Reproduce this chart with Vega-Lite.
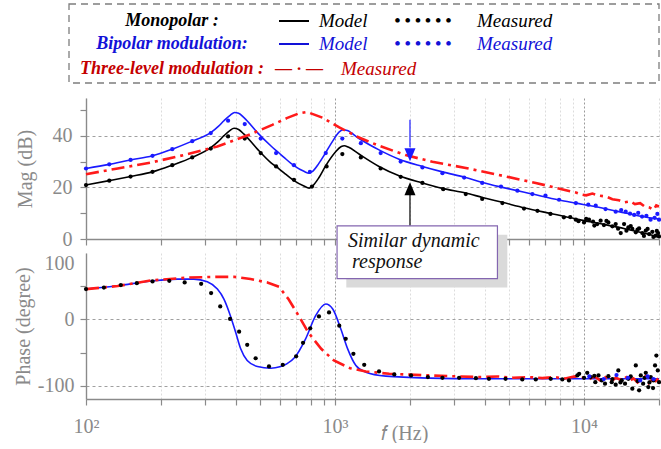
{
  "$schema": "https://vega.github.io/schema/vega-lite/v6.json",
  "padding": {"left": 13, "top": 3, "right": 0, "bottom": 0},
  "config": {
    "font": "Liberation Serif",
    "view": {"stroke": null},
    "axis": {
      "domainColor": "#8a8a8a", "domainWidth": 1.4,
      "tickColor": "#8a8a8a", "tickSize": 6, "tickWidth": 1.2,
      "labelColor": "#8a8a8a", "labelFont": "Liberation Serif", "labelFontSize": 20, "labelFlush": false,
      "titleColor": "#8a8a8a", "titleFont": "Liberation Serif", "titleFontSize": 20, "titleFontWeight": "normal",
      "gridWidth": 1
    }
  },
  "datasets": {
    "legendRows": [
      {"kind": "frame", "slot": 0, "slot2": 7, "line": 0, "line2": 4},
      {"kind": "label", "series": "Monopolar", "slot": 1, "line": 1, "text": "Monopolar :"},
      {"kind": "label", "series": "Bipolar", "slot": 1, "line": 2, "text": "Bipolar modulation:"},
      {"kind": "label", "series": "Three-level", "slot": 1, "line": 3, "text": "Three-level modulation :"},
      {"kind": "solid", "series": "Monopolar", "slot": 2, "line": 1},
      {"kind": "solid", "series": "Bipolar", "slot": 2, "line": 2},
      {"kind": "glyph", "series": "Three-level", "slot": 2.2, "line": 3, "text": "— · —"},
      {"kind": "item", "series": "Monopolar", "slot": 3, "line": 1, "text": "Model"},
      {"kind": "item", "series": "Bipolar", "slot": 3, "line": 2, "text": "Model"},
      {"kind": "item", "series": "Three-level", "slot": 4, "line": 3, "text": "Measured"},
      {"kind": "glyph", "series": "Monopolar", "slot": 5, "line": 1, "text": "• • • • • •"},
      {"kind": "glyph", "series": "Bipolar", "slot": 5, "line": 2, "text": "• • • • • •"},
      {"kind": "item", "series": "Monopolar", "slot": 6, "line": 1, "text": "Measured"},
      {"kind": "item", "series": "Bipolar", "slot": 6, "line": 2, "text": "Measured"}
    ],
    "magModel": [
      {"series": "Monopolar", "f": 100, "v": 20.9}, {"series": "Monopolar", "f": 124, "v": 22.6},
      {"series": "Monopolar", "f": 151, "v": 24.2}, {"series": "Monopolar", "f": 185, "v": 26.0},
      {"series": "Monopolar", "f": 222, "v": 28.6}, {"series": "Monopolar", "f": 267, "v": 31.6},
      {"series": "Monopolar", "f": 317, "v": 35.4}, {"series": "Monopolar", "f": 340, "v": 37.8},
      {"series": "Monopolar", "f": 358, "v": 40.0}, {"series": "Monopolar", "f": 378, "v": 42.0},
      {"series": "Monopolar", "f": 393, "v": 42.9}, {"series": "Monopolar", "f": 410, "v": 42.4},
      {"series": "Monopolar", "f": 431, "v": 40.6}, {"series": "Monopolar", "f": 488, "v": 34.8},
      {"series": "Monopolar", "f": 552, "v": 29.6}, {"series": "Monopolar", "f": 596, "v": 27.2},
      {"series": "Monopolar", "f": 624, "v": 25.6}, {"series": "Monopolar", "f": 684, "v": 22.6},
      {"series": "Monopolar", "f": 750, "v": 20.5}, {"series": "Monopolar", "f": 787, "v": 19.7},
      {"series": "Monopolar", "f": 810, "v": 20.4}, {"series": "Monopolar", "f": 860, "v": 23.6},
      {"series": "Monopolar", "f": 918, "v": 28.4}, {"series": "Monopolar", "f": 1000, "v": 33.5},
      {"series": "Monopolar", "f": 1060, "v": 35.8}, {"series": "Monopolar", "f": 1090, "v": 36.1},
      {"series": "Monopolar", "f": 1130, "v": 35.6}, {"series": "Monopolar", "f": 1248, "v": 32.9},
      {"series": "Monopolar", "f": 1502, "v": 28.1}, {"series": "Monopolar", "f": 1808, "v": 24.5},
      {"series": "Monopolar", "f": 2244, "v": 21.7}, {"series": "Monopolar", "f": 2700, "v": 19.6},
      {"series": "Monopolar", "f": 3350, "v": 17.8}, {"series": "Monopolar", "f": 3910, "v": 16.1},
      {"series": "Monopolar", "f": 4700, "v": 14.2}, {"series": "Monopolar", "f": 5800, "v": 12.0},
      {"series": "Monopolar", "f": 7500, "v": 9.7}, {"series": "Monopolar", "f": 9560, "v": 7.5},
      {"series": "Monopolar", "f": 11800, "v": 5.8}, {"series": "Monopolar", "f": 14700, "v": 3.9},
      {"series": "Monopolar", "f": 17500, "v": 2.2}, {"series": "Monopolar", "f": 20000, "v": 0.8},
      {"series": "Bipolar", "f": 100, "v": 27.3}, {"series": "Bipolar", "f": 124, "v": 28.9},
      {"series": "Bipolar", "f": 151, "v": 30.6}, {"series": "Bipolar", "f": 185, "v": 32.2},
      {"series": "Bipolar", "f": 222, "v": 34.8}, {"series": "Bipolar", "f": 267, "v": 37.9},
      {"series": "Bipolar", "f": 317, "v": 41.2}, {"series": "Bipolar", "f": 340, "v": 43.6},
      {"series": "Bipolar", "f": 358, "v": 45.8}, {"series": "Bipolar", "f": 380, "v": 48.0},
      {"series": "Bipolar", "f": 395, "v": 49.0}, {"series": "Bipolar", "f": 410, "v": 48.7},
      {"series": "Bipolar", "f": 431, "v": 47.0}, {"series": "Bipolar", "f": 488, "v": 41.2},
      {"series": "Bipolar", "f": 552, "v": 36.1}, {"series": "Bipolar", "f": 596, "v": 33.3},
      {"series": "Bipolar", "f": 624, "v": 31.6}, {"series": "Bipolar", "f": 684, "v": 28.4},
      {"series": "Bipolar", "f": 750, "v": 26.2}, {"series": "Bipolar", "f": 787, "v": 25.5},
      {"series": "Bipolar", "f": 810, "v": 26.1}, {"series": "Bipolar", "f": 860, "v": 29.2},
      {"series": "Bipolar", "f": 918, "v": 33.5}, {"series": "Bipolar", "f": 980, "v": 38.0},
      {"series": "Bipolar", "f": 1040, "v": 41.5}, {"series": "Bipolar", "f": 1080, "v": 42.3},
      {"series": "Bipolar", "f": 1120, "v": 42.0}, {"series": "Bipolar", "f": 1248, "v": 38.9},
      {"series": "Bipolar", "f": 1502, "v": 34.5}, {"series": "Bipolar", "f": 1808, "v": 30.9},
      {"series": "Bipolar", "f": 2244, "v": 28.1}, {"series": "Bipolar", "f": 2700, "v": 26.0},
      {"series": "Bipolar", "f": 3350, "v": 23.8}, {"series": "Bipolar", "f": 3910, "v": 21.9},
      {"series": "Bipolar", "f": 4700, "v": 20.0}, {"series": "Bipolar", "f": 6200, "v": 17.4},
      {"series": "Bipolar", "f": 7940, "v": 15.1}, {"series": "Bipolar", "f": 9270, "v": 13.9},
      {"series": "Bipolar", "f": 11140, "v": 12.5}, {"series": "Bipolar", "f": 13800, "v": 10.6},
      {"series": "Bipolar", "f": 17100, "v": 8.7}, {"series": "Bipolar", "f": 20000, "v": 7.7}
    ],
    "magMeasured": [
      {"series": "Monopolar", "f": 100, "v": 20.9}, {"series": "Monopolar", "f": 124, "v": 22.6},
      {"series": "Monopolar", "f": 151, "v": 24.2}, {"series": "Monopolar", "f": 185, "v": 26.0},
      {"series": "Monopolar", "f": 222, "v": 28.6}, {"series": "Monopolar", "f": 267, "v": 31.6},
      {"series": "Monopolar", "f": 317, "v": 35.0}, {"series": "Monopolar", "f": 372, "v": 39.7},
      {"series": "Monopolar", "f": 434, "v": 38.9}, {"series": "Monopolar", "f": 503, "v": 33.3},
      {"series": "Monopolar", "f": 580, "v": 28.1}, {"series": "Monopolar", "f": 684, "v": 22.9},
      {"series": "Monopolar", "f": 808, "v": 20.3}, {"series": "Monopolar", "f": 925, "v": 28.1},
      {"series": "Monopolar", "f": 1070, "v": 32.9}, {"series": "Monopolar", "f": 1270, "v": 31.6},
      {"series": "Monopolar", "f": 1525, "v": 27.3}, {"series": "Monopolar", "f": 1835, "v": 24.1},
      {"series": "Monopolar", "f": 2244, "v": 21.7}, {"series": "Monopolar", "f": 2720, "v": 19.3},
      {"series": "Monopolar", "f": 3350, "v": 17.4}, {"series": "Monopolar", "f": 3900, "v": 15.5},
      {"series": "Monopolar", "f": 4700, "v": 13.9}, {"series": "Monopolar", "f": 5740, "v": 11.8},
      {"series": "Monopolar", "f": 6500, "v": 10.9}, {"series": "Monopolar", "f": 7330, "v": 9.7},
      {"series": "Monopolar", "f": 8300, "v": 8.4}, {"series": "Monopolar", "f": 8800, "v": 8.5},
      {"series": "Monopolar", "f": 9270, "v": 7.5}, {"series": "Monopolar", "f": 9500, "v": 6.9},
      {"series": "Monopolar", "f": 10000, "v": 6.4}, {"series": "Monopolar", "f": 10200, "v": 7.8},
      {"series": "Monopolar", "f": 10470, "v": 7.5}, {"series": "Monopolar", "f": 10870, "v": 6.7},
      {"series": "Monopolar", "f": 11000, "v": 5.2}, {"series": "Monopolar", "f": 11300, "v": 5.8},
      {"series": "Monopolar", "f": 11660, "v": 7.1}, {"series": "Monopolar", "f": 12020, "v": 5.4},
      {"series": "Monopolar", "f": 12300, "v": 7.0}, {"series": "Monopolar", "f": 12520, "v": 6.4},
      {"series": "Monopolar", "f": 12990, "v": 4.9}, {"series": "Monopolar", "f": 13400, "v": 5.8},
      {"series": "Monopolar", "f": 13700, "v": 4.0}, {"series": "Monopolar", "f": 14040, "v": 2.3},
      {"series": "Monopolar", "f": 14480, "v": 5.8}, {"series": "Monopolar", "f": 14800, "v": 3.2},
      {"series": "Monopolar", "f": 15060, "v": 4.5}, {"series": "Monopolar", "f": 15400, "v": 5.0},
      {"series": "Monopolar", "f": 15630, "v": 3.9}, {"series": "Monopolar", "f": 16140, "v": 2.6},
      {"series": "Monopolar", "f": 16400, "v": 3.6}, {"series": "Monopolar", "f": 16640, "v": 4.1},
      {"series": "Monopolar", "f": 17150, "v": 2.3}, {"series": "Monopolar", "f": 17400, "v": 1.2},
      {"series": "Monopolar", "f": 17700, "v": 3.2}, {"series": "Monopolar", "f": 18000, "v": 3.9},
      {"series": "Monopolar", "f": 18250, "v": 1.9}, {"series": "Monopolar", "f": 18810, "v": 2.8},
      {"series": "Monopolar", "f": 19000, "v": 0.8}, {"series": "Monopolar", "f": 19410, "v": 1.3},
      {"series": "Monopolar", "f": 19600, "v": 3.1}, {"series": "Monopolar", "f": 19830, "v": 2.3},
      {"series": "Monopolar", "f": 20000, "v": 1.0},
      {"series": "Bipolar", "f": 100, "v": 27.3}, {"series": "Bipolar", "f": 124, "v": 28.9},
      {"series": "Bipolar", "f": 151, "v": 30.6}, {"series": "Bipolar", "f": 185, "v": 32.2},
      {"series": "Bipolar", "f": 222, "v": 34.8}, {"series": "Bipolar", "f": 267, "v": 37.9},
      {"series": "Bipolar", "f": 317, "v": 41.0}, {"series": "Bipolar", "f": 372, "v": 45.8},
      {"series": "Bipolar", "f": 434, "v": 44.5}, {"series": "Bipolar", "f": 503, "v": 38.9},
      {"series": "Bipolar", "f": 580, "v": 33.3}, {"series": "Bipolar", "f": 684, "v": 28.6},
      {"series": "Bipolar", "f": 793, "v": 26.0}, {"series": "Bipolar", "f": 918, "v": 33.3},
      {"series": "Bipolar", "f": 1070, "v": 38.9}, {"series": "Bipolar", "f": 1270, "v": 37.1},
      {"series": "Bipolar", "f": 1525, "v": 33.3}, {"series": "Bipolar", "f": 1835, "v": 30.0},
      {"series": "Bipolar", "f": 2244, "v": 27.7}, {"series": "Bipolar", "f": 2700, "v": 25.5},
      {"series": "Bipolar", "f": 3300, "v": 23.8}, {"series": "Bipolar", "f": 3900, "v": 21.7},
      {"series": "Bipolar", "f": 4640, "v": 20.3}, {"series": "Bipolar", "f": 5400, "v": 18.7},
      {"series": "Bipolar", "f": 6200, "v": 17.4}, {"series": "Bipolar", "f": 7000, "v": 16.8},
      {"series": "Bipolar", "f": 7940, "v": 15.2}, {"series": "Bipolar", "f": 9270, "v": 13.9},
      {"series": "Bipolar", "f": 10400, "v": 13.3}, {"series": "Bipolar", "f": 11140, "v": 12.9},
      {"series": "Bipolar", "f": 12200, "v": 11.6}, {"series": "Bipolar", "f": 13400, "v": 10.6},
      {"series": "Bipolar", "f": 14100, "v": 11.2}, {"series": "Bipolar", "f": 14700, "v": 10.6},
      {"series": "Bipolar", "f": 15300, "v": 9.8}, {"series": "Bipolar", "f": 15900, "v": 9.3},
      {"series": "Bipolar", "f": 16500, "v": 10.1}, {"series": "Bipolar", "f": 17100, "v": 8.7},
      {"series": "Bipolar", "f": 17800, "v": 9.0}, {"series": "Bipolar", "f": 18500, "v": 7.5},
      {"series": "Bipolar", "f": 19200, "v": 8.2}, {"series": "Bipolar", "f": 19700, "v": 9.7},
      {"series": "Bipolar", "f": 20000, "v": 7.5}
    ],
    "magThree": [
      {"series": "Three-level", "f": 100, "v": 25.1}, {"series": "Three-level", "f": 134, "v": 27.3},
      {"series": "Three-level", "f": 182, "v": 29.6}, {"series": "Three-level", "f": 247, "v": 32.5},
      {"series": "Three-level", "f": 337, "v": 35.8}, {"series": "Three-level", "f": 458, "v": 40.6},
      {"series": "Three-level", "f": 560, "v": 44.2}, {"series": "Three-level", "f": 640, "v": 46.8},
      {"series": "Three-level", "f": 718, "v": 48.7}, {"series": "Three-level", "f": 772, "v": 49.2},
      {"series": "Three-level", "f": 890, "v": 47.0}, {"series": "Three-level", "f": 1040, "v": 43.2},
      {"series": "Three-level", "f": 1248, "v": 39.3}, {"series": "Three-level", "f": 1502, "v": 36.1},
      {"series": "Three-level", "f": 1920, "v": 32.5}, {"series": "Three-level", "f": 2460, "v": 29.9},
      {"series": "Three-level", "f": 3350, "v": 27.5}, {"series": "Three-level", "f": 4700, "v": 24.5},
      {"series": "Three-level", "f": 6400, "v": 21.7}, {"series": "Three-level", "f": 9270, "v": 18.0},
      {"series": "Three-level", "f": 9700, "v": 17.3}, {"series": "Three-level", "f": 10200, "v": 16.9},
      {"series": "Three-level", "f": 10800, "v": 17.6}, {"series": "Three-level", "f": 11500, "v": 16.8},
      {"series": "Three-level", "f": 12300, "v": 16.4}, {"series": "Three-level", "f": 13000, "v": 15.4},
      {"series": "Three-level", "f": 13800, "v": 15.0}, {"series": "Three-level", "f": 14500, "v": 14.2},
      {"series": "Three-level", "f": 15300, "v": 14.6}, {"series": "Three-level", "f": 16000, "v": 13.5},
      {"series": "Three-level", "f": 16800, "v": 13.9}, {"series": "Three-level", "f": 17500, "v": 12.6},
      {"series": "Three-level", "f": 18300, "v": 12.2}, {"series": "Three-level", "f": 19000, "v": 11.3},
      {"series": "Three-level", "f": 19500, "v": 13.0}, {"series": "Three-level", "f": 20000, "v": 12.6}
    ],
    "arrows": [
      {"series": "Bipolar", "f": 2000, "v": 46.2, "v2": 35.5},
      {"series": "Monopolar", "f": 2000, "v": 5.0, "v2": 17.5}
    ],
    "arrowHeads": [
      {"series": "Bipolar", "dir": "down", "f": 2000, "v": 32.6},
      {"series": "Monopolar", "dir": "up", "f": 2000, "v": 19.5}
    ],
    "phaseModel": [
      {"series": "Bipolar", "f": 100, "v": 45.6}, {"series": "Bipolar", "f": 134, "v": 50.6},
      {"series": "Bipolar", "f": 182, "v": 57.7}, {"series": "Bipolar", "f": 233, "v": 60.7},
      {"series": "Bipolar", "f": 271, "v": 60.7}, {"series": "Bipolar", "f": 307, "v": 56.6},
      {"series": "Bipolar", "f": 337, "v": 45.6}, {"series": "Bipolar", "f": 358, "v": 30.6},
      {"series": "Bipolar", "f": 380, "v": 5.6}, {"series": "Bipolar", "f": 399, "v": -19.5},
      {"series": "Bipolar", "f": 418, "v": -44.4}, {"series": "Bipolar", "f": 444, "v": -62.0},
      {"series": "Bipolar", "f": 488, "v": -71.0}, {"series": "Bipolar", "f": 552, "v": -73.6},
      {"series": "Bipolar", "f": 600, "v": -71.5}, {"series": "Bipolar", "f": 640, "v": -67.0},
      {"series": "Bipolar", "f": 690, "v": -57.0}, {"series": "Bipolar", "f": 762, "v": -29.4},
      {"series": "Bipolar", "f": 836, "v": 5.6}, {"series": "Bipolar", "f": 918, "v": 23.1},
      {"series": "Bipolar", "f": 979, "v": 15.6}, {"series": "Bipolar", "f": 1055, "v": -14.4},
      {"series": "Bipolar", "f": 1124, "v": -44.4}, {"series": "Bipolar", "f": 1213, "v": -69.5},
      {"series": "Bipolar", "f": 1330, "v": -79.6}, {"series": "Bipolar", "f": 1600, "v": -85.6},
      {"series": "Bipolar", "f": 2400, "v": -88.6}, {"series": "Bipolar", "f": 3786, "v": -89.5},
      {"series": "Bipolar", "f": 10000, "v": -89.5}, {"series": "Bipolar", "f": 20000, "v": -89.5}
    ],
    "phaseMeasured": [
      {"series": "Monopolar", "f": 100, "v": 45.6}, {"series": "Monopolar", "f": 118, "v": 48.0},
      {"series": "Monopolar", "f": 138, "v": 51.6}, {"series": "Monopolar", "f": 160, "v": 54.6},
      {"series": "Monopolar", "f": 185, "v": 57.1}, {"series": "Monopolar", "f": 216, "v": 58.1},
      {"series": "Monopolar", "f": 249, "v": 55.6}, {"series": "Monopolar", "f": 290, "v": 53.6},
      {"series": "Monopolar", "f": 318, "v": 39.6}, {"series": "Monopolar", "f": 346, "v": 19.5},
      {"series": "Monopolar", "f": 379, "v": 0.6}, {"series": "Monopolar", "f": 412, "v": -18.5},
      {"series": "Monopolar", "f": 444, "v": -38.4}, {"series": "Monopolar", "f": 480, "v": -58.6},
      {"series": "Monopolar", "f": 543, "v": -71.0}, {"series": "Monopolar", "f": 617, "v": -68.5},
      {"series": "Monopolar", "f": 698, "v": -55.6}, {"series": "Monopolar", "f": 744, "v": -35.4},
      {"series": "Monopolar", "f": 795, "v": -13.5}, {"series": "Monopolar", "f": 862, "v": 4.5},
      {"series": "Monopolar", "f": 946, "v": 10.5}, {"series": "Monopolar", "f": 1040, "v": -9.5},
      {"series": "Monopolar", "f": 1104, "v": -29.4}, {"series": "Monopolar", "f": 1185, "v": -52.0},
      {"series": "Monopolar", "f": 1310, "v": -68.5}, {"series": "Monopolar", "f": 1502, "v": -78.5},
      {"series": "Monopolar", "f": 1730, "v": -83.0}, {"series": "Monopolar", "f": 2020, "v": -84.5},
      {"series": "Monopolar", "f": 2360, "v": -87.0}, {"series": "Monopolar", "f": 2700, "v": -88.0},
      {"series": "Monopolar", "f": 3150, "v": -88.0}, {"series": "Monopolar", "f": 3680, "v": -88.6},
      {"series": "Monopolar", "f": 4150, "v": -89.5}, {"series": "Monopolar", "f": 4840, "v": -89.5},
      {"series": "Monopolar", "f": 5650, "v": -90.5}, {"series": "Monopolar", "f": 6400, "v": -90.5},
      {"series": "Monopolar", "f": 7350, "v": -89.5}, {"series": "Monopolar", "f": 8180, "v": -90.5},
      {"series": "Monopolar", "f": 8700, "v": -92.0}, {"series": "Monopolar", "f": 9400, "v": -84.5},
      {"series": "Monopolar", "f": 9560, "v": -82.0}, {"series": "Monopolar", "f": 10000, "v": -88.0},
      {"series": "Monopolar", "f": 10300, "v": -80.5}, {"series": "Monopolar", "f": 10640, "v": -87.0},
      {"series": "Monopolar", "f": 11000, "v": -85.0}, {"series": "Monopolar", "f": 11100, "v": -94.6},
      {"series": "Monopolar", "f": 11430, "v": -84.5}, {"series": "Monopolar", "f": 11780, "v": -92.0},
      {"series": "Monopolar", "f": 12140, "v": -97.0}, {"series": "Monopolar", "f": 12520, "v": -85.6},
      {"series": "Monopolar", "f": 12920, "v": -94.6}, {"series": "Monopolar", "f": 13000, "v": -90.0},
      {"series": "Monopolar", "f": 13400, "v": -98.5}, {"series": "Monopolar", "f": 13730, "v": -77.0},
      {"series": "Monopolar", "f": 14000, "v": -95.0}, {"series": "Monopolar", "f": 14170, "v": -92.0},
      {"series": "Monopolar", "f": 14610, "v": -97.0}, {"series": "Monopolar", "f": 15060, "v": -89.5},
      {"series": "Monopolar", "f": 15400, "v": -86.0}, {"series": "Monopolar", "f": 15630, "v": -104.5},
      {"series": "Monopolar", "f": 16140, "v": -69.5}, {"series": "Monopolar", "f": 16400, "v": -93.0},
      {"series": "Monopolar", "f": 16640, "v": -107.0}, {"series": "Monopolar", "f": 16900, "v": -84.5},
      {"series": "Monopolar", "f": 17270, "v": -97.0}, {"series": "Monopolar", "f": 17500, "v": -88.0},
      {"series": "Monopolar", "f": 17700, "v": -80.5}, {"series": "Monopolar", "f": 18120, "v": -102.0},
      {"series": "Monopolar", "f": 18300, "v": -95.0}, {"series": "Monopolar", "f": 18530, "v": -87.0},
      {"series": "Monopolar", "f": 18930, "v": -103.6}, {"series": "Monopolar", "f": 19000, "v": -92.0},
      {"series": "Monopolar", "f": 19280, "v": -69.5}, {"series": "Monopolar", "f": 19520, "v": -54.5},
      {"series": "Monopolar", "f": 19780, "v": -77.0}, {"series": "Monopolar", "f": 20000, "v": -94.6},
      {"series": "Bipolar", "f": 10500, "v": -86.0}, {"series": "Bipolar", "f": 12000, "v": -90.0},
      {"series": "Bipolar", "f": 13500, "v": -84.0}, {"series": "Bipolar", "f": 15000, "v": -88.0},
      {"series": "Bipolar", "f": 16800, "v": -92.0}, {"series": "Bipolar", "f": 18000, "v": -86.0},
      {"series": "Bipolar", "f": 19000, "v": -90.0}
    ],
    "phaseThree": [
      {"series": "Three-level", "f": 100, "v": 45.6}, {"series": "Three-level", "f": 134, "v": 50.2},
      {"series": "Three-level", "f": 182, "v": 58.6}, {"series": "Three-level", "f": 260, "v": 63.1},
      {"series": "Three-level", "f": 337, "v": 64.1}, {"series": "Three-level", "f": 393, "v": 64.1},
      {"series": "Three-level", "f": 458, "v": 60.7}, {"series": "Three-level", "f": 535, "v": 55.6},
      {"series": "Three-level", "f": 596, "v": 49.0}, {"series": "Three-level", "f": 650, "v": 30.6},
      {"series": "Three-level", "f": 714, "v": 5.6}, {"series": "Three-level", "f": 780, "v": -19.5},
      {"series": "Three-level", "f": 880, "v": -44.4}, {"series": "Three-level", "f": 990, "v": -62.0},
      {"series": "Three-level", "f": 1150, "v": -73.6}, {"series": "Three-level", "f": 1330, "v": -78.5},
      {"series": "Three-level", "f": 1650, "v": -82.0}, {"series": "Three-level", "f": 2400, "v": -84.5},
      {"series": "Three-level", "f": 3786, "v": -87.0}, {"series": "Three-level", "f": 4500, "v": -86.0},
      {"series": "Three-level", "f": 5200, "v": -88.0}, {"series": "Three-level", "f": 6000, "v": -87.0},
      {"series": "Three-level", "f": 6800, "v": -88.5}, {"series": "Three-level", "f": 7600, "v": -87.0},
      {"series": "Three-level", "f": 8400, "v": -89.0}, {"series": "Three-level", "f": 9200, "v": -86.0},
      {"series": "Three-level", "f": 10000, "v": -88.0}, {"series": "Three-level", "f": 10500, "v": -90.0},
      {"series": "Three-level", "f": 11000, "v": -86.0}, {"series": "Three-level", "f": 11600, "v": -92.0},
      {"series": "Three-level", "f": 12200, "v": -87.0}, {"series": "Three-level", "f": 12800, "v": -94.0},
      {"series": "Three-level", "f": 13400, "v": -88.0}, {"series": "Three-level", "f": 14000, "v": -91.0},
      {"series": "Three-level", "f": 14600, "v": -85.0}, {"series": "Three-level", "f": 15200, "v": -93.0},
      {"series": "Three-level", "f": 15800, "v": -89.0}, {"series": "Three-level", "f": 16400, "v": -95.0},
      {"series": "Three-level", "f": 17000, "v": -90.0}, {"series": "Three-level", "f": 17600, "v": -86.0},
      {"series": "Three-level", "f": 18200, "v": -96.0}, {"series": "Three-level", "f": 18800, "v": -90.0},
      {"series": "Three-level", "f": 19400, "v": -93.0}, {"series": "Three-level", "f": 20000, "v": -88.0}
    ],
    "calloutShadow": [{"f": 1110, "f2": 4920, "v": 127.6, "v2": 47.9}],
    "calloutBox": [{"f": 1019, "f2": 4490, "v": 141.0, "v2": 61.4}],
    "calloutText": [
      {"f": 1127, "v": 109.5, "text": "Similar dynamic"},
      {"f": 1170, "v": 76.9, "text": "response"}
    ]
  },
  "bounds": "flush",
  "spacing": 15,
  "resolve": {"scale": {"color": "independent"}},
  "vconcat": [
    {
      "width": 573,
      "height": 79,
      "data": {"name": "legendRows"},
      "encoding": {
        "x": {"field": "slot", "type": "quantitative", "axis": null,
              "scale": {"domain": [0, 1, 2, 3, 4, 5, 6, 7], "range": [-17, 86, 208, 233, 255, 337, 391, 573], "nice": false, "zero": false}},
        "y": {"field": "line", "type": "quantitative", "axis": null,
              "scale": {"domain": [0, 1, 2, 3, 4], "range": [0, 17, 40, 65, 79], "nice": false, "zero": false}}
      },
      "layer": [
        {
          "transform": [{"filter": "datum.kind == 'frame'"}],
          "mark": {"type": "rect", "filled": false, "stroke": "#7d7d7d", "strokeWidth": 1.3, "strokeDash": [7, 5]},
          "encoding": {"x2": {"field": "slot2"}, "y2": {"field": "line2"}}
        },
        {
          "transform": [{"filter": "datum.kind == 'label'"}],
          "mark": {"type": "text", "font": "Liberation Serif", "fontSize": 18, "fontWeight": "bold", "fontStyle": "italic", "align": "center", "baseline": "middle"},
          "encoding": {
            "text": {"field": "text"},
            "color": {"field": "series", "type": "nominal", "legend": null,
                      "scale": {"domain": ["Monopolar", "Bipolar", "Three-level"], "range": ["#000000", "#1212d8", "#c40000"]}}
          }
        },
        {
          "transform": [{"filter": "datum.kind == 'solid'"}],
          "mark": {"type": "tick", "orient": "horizontal", "size": 30, "thickness": 2, "opacity": 1},
          "encoding": {
            "color": {"field": "series", "type": "nominal", "legend": null,
                      "scale": {"domain": ["Monopolar", "Bipolar", "Three-level"], "range": ["#000000", "#1212d8", "#c40000"]}}
          }
        },
        {
          "transform": [{"filter": "datum.kind == 'glyph'"}],
          "mark": {"type": "text", "font": "Liberation Serif", "fontSize": 17, "fontWeight": "bold", "align": "center", "baseline": "middle"},
          "encoding": {
            "text": {"field": "text"},
            "color": {"field": "series", "type": "nominal", "legend": null,
                      "scale": {"domain": ["Monopolar", "Bipolar", "Three-level"], "range": ["#000000", "#1212d8", "#c40000"]}}
          }
        },
        {
          "transform": [{"filter": "datum.kind == 'item'"}],
          "mark": {"type": "text", "font": "Liberation Serif", "fontSize": 19, "fontStyle": "italic", "align": "left", "baseline": "middle"},
          "encoding": {
            "text": {"field": "text"},
            "color": {"field": "series", "type": "nominal", "legend": null,
                      "scale": {"domain": ["Monopolar", "Bipolar", "Three-level"], "range": ["#000000", "#1212d8", "#c40000"]}}
          }
        }
      ]
    },
    {
      "bounds": "flush",
      "spacing": 14,
      "resolve": {"scale": {"color": "independent"}},
      "vconcat": [
        {
          "width": 573,
          "height": 141,
          "encoding": {
            "x": {"field": "f", "type": "quantitative",
                  "scale": {"type": "log", "domain": [100, 20000], "nice": false},
                  "axis": {"values": [100, 200, 300, 400, 500, 600, 700, 800, 900, 1000, 2000, 3000, 4000, 5000, 6000, 7000, 8000, 9000, 10000, 20000],
                           "labels": false, "title": null, "grid": true, "gridDash": [2, 2],
                           "gridColor": {"condition": {"test": "datum.value == 1000 || datum.value == 10000", "value": "#9a9a9a"}, "value": "#dcdcdc"}}},
            "y": {"field": "v", "type": "quantitative",
                  "scale": {"domain": [0, 54.6], "nice": false, "zero": false},
                  "axis": {"values": [0, 10, 20, 30, 40, 50],
                           "labelExpr": "datum.value % 20 == 0 ? datum.label : ''",
                           "labelPadding": 8, "title": "Mag (dB)", "titlePadding": 17,
                           "grid": true, "gridColor": "#a0a0a0", "gridDash": [3, 3],
                           "gridOpacity": {"condition": {"test": "datum.value == 20 || datum.value == 40", "value": 1}, "value": 0}}}
          },
          "layer": [
            {
              "data": {"name": "magModel"},
              "mark": {"type": "line", "strokeWidth": 1.6, "interpolate": "monotone"},
              "encoding": {"color": {"field": "series", "type": "nominal", "legend": null,
                                     "scale": {"domain": ["Monopolar", "Bipolar", "Three-level"], "range": ["#000000", "#1a1aff", "#ff1a1a"]}}}
            },
            {
              "data": {"name": "magMeasured"},
              "mark": {"type": "circle", "size": 18, "opacity": 1},
              "encoding": {"color": {"field": "series", "type": "nominal", "legend": null,
                                     "scale": {"domain": ["Monopolar", "Bipolar", "Three-level"], "range": ["#000000", "#1a1aff", "#ff1a1a"]}}}
            },
            {
              "data": {"name": "magThree"},
              "mark": {"type": "line", "strokeWidth": 2.6, "strokeDash": [13, 5, 3, 5]},
              "encoding": {"color": {"field": "series", "type": "nominal", "legend": null,
                                     "scale": {"domain": ["Monopolar", "Bipolar", "Three-level"], "range": ["#000000", "#1a1aff", "#ff1a1a"]}}}
            },
            {
              "data": {"name": "arrows"},
              "mark": {"type": "rule", "strokeWidth": 1.2},
              "encoding": {"y2": {"field": "v2"},
                           "color": {"field": "series", "type": "nominal", "legend": null,
                                     "scale": {"domain": ["Monopolar", "Bipolar", "Three-level"], "range": ["#000000", "#1a1aff", "#ff1a1a"]}}}
            },
            {
              "data": {"name": "arrowHeads"},
              "mark": {"type": "point", "filled": true, "size": 169, "opacity": 1},
              "encoding": {
                "shape": {"field": "dir", "type": "nominal", "legend": null,
                          "scale": {"domain": ["down", "up"], "range": ["M-0.85,-1L0.85,-1L0,1Z", "M-0.85,1L0.85,1L0,-1Z"]}},
                "color": {"field": "series", "type": "nominal", "legend": null,
                          "scale": {"domain": ["Monopolar", "Bipolar", "Three-level"], "range": ["#000000", "#1a1aff", "#ff1a1a"]}}
              }
            }
          ]
        },
        {
          "width": 573,
          "height": 146,
          "encoding": {
            "x": {"field": "f", "type": "quantitative",
                  "scale": {"type": "log", "domain": [100, 20000], "nice": false},
                  "axis": {"values": [100, 200, 300, 400, 500, 600, 700, 800, 900, 1000, 2000, 3000, 4000, 5000, 6000, 7000, 8000, 9000, 10000, 20000],
                           "labelExpr": "datum.value == 100 ? '10²' : datum.value == 1000 ? '10³' : datum.value == 10000 ? '10⁴' : ''",
                           "labelPadding": 11, "labelFontSize": 20,
                           "title": "𝑓 (Hz)", "titleX": 318, "titleY": 24, "titleBaseline": "top", "titleAlign": "center",
                           "grid": true, "gridDash": [2, 2],
                           "gridColor": {"condition": {"test": "datum.value == 1000 || datum.value == 10000", "value": "#9a9a9a"}, "value": "#dcdcdc"}}},
            "y": {"field": "v", "type": "quantitative",
                  "scale": {"domain": [-120, 100], "nice": false, "zero": false},
                  "axis": {"values": [-100, -50, 0, 50, 100],
                           "labelExpr": "datum.value == 100 ? '100' : datum.value == 0 ? '0' : datum.value == -100 ? '-100' : ''",
                           "labelBaseline": {"condition": {"test": "datum.value == 100", "value": "top"}, "value": "middle"},
                           "tickOpacity": {"condition": {"test": "datum.value == 100", "value": 0}, "value": 1},
                           "labelPadding": 6, "title": "Phase (degree)", "titlePadding": 4,
                           "grid": true, "gridColor": "#a0a0a0", "gridDash": [3, 3],
                           "gridOpacity": {"condition": {"test": "datum.value == 0 || datum.value == -100", "value": 1}, "value": 0}}}
          },
          "layer": [
            {
              "data": {"name": "phaseModel"},
              "mark": {"type": "line", "strokeWidth": 1.6, "interpolate": "monotone"},
              "encoding": {"color": {"field": "series", "type": "nominal", "legend": null,
                                     "scale": {"domain": ["Monopolar", "Bipolar", "Three-level"], "range": ["#000000", "#1a1aff", "#ff1a1a"]}}}
            },
            {
              "data": {"name": "phaseThree"},
              "mark": {"type": "line", "strokeWidth": 2.6, "strokeDash": [13, 5, 3, 5]},
              "encoding": {"color": {"field": "series", "type": "nominal", "legend": null,
                                     "scale": {"domain": ["Monopolar", "Bipolar", "Three-level"], "range": ["#000000", "#1a1aff", "#ff1a1a"]}}}
            },
            {
              "data": {"name": "phaseMeasured"},
              "mark": {"type": "circle", "size": 18, "opacity": 1},
              "encoding": {"color": {"field": "series", "type": "nominal", "legend": null,
                                     "scale": {"domain": ["Monopolar", "Bipolar", "Three-level"], "range": ["#000000", "#1a1aff", "#ff1a1a"]}}}
            },
            {
              "data": {"name": "calloutShadow"},
              "mark": {"type": "rect", "fill": "#dadada"},
              "encoding": {"x2": {"field": "f2"}, "y2": {"field": "v2"}}
            },
            {
              "data": {"name": "calloutBox"},
              "mark": {"type": "rect", "fill": "#ffffff", "stroke": "#8466b0", "strokeWidth": 1.2},
              "encoding": {"x2": {"field": "f2"}, "y2": {"field": "v2"}}
            },
            {
              "data": {"name": "calloutText"},
              "mark": {"type": "text", "font": "Liberation Serif", "fontSize": 20, "fontStyle": "italic", "align": "left", "baseline": "alphabetic", "color": "#111111"},
              "encoding": {"text": {"field": "text"}}
            }
          ]
        }
      ]
    }
  ]
}
